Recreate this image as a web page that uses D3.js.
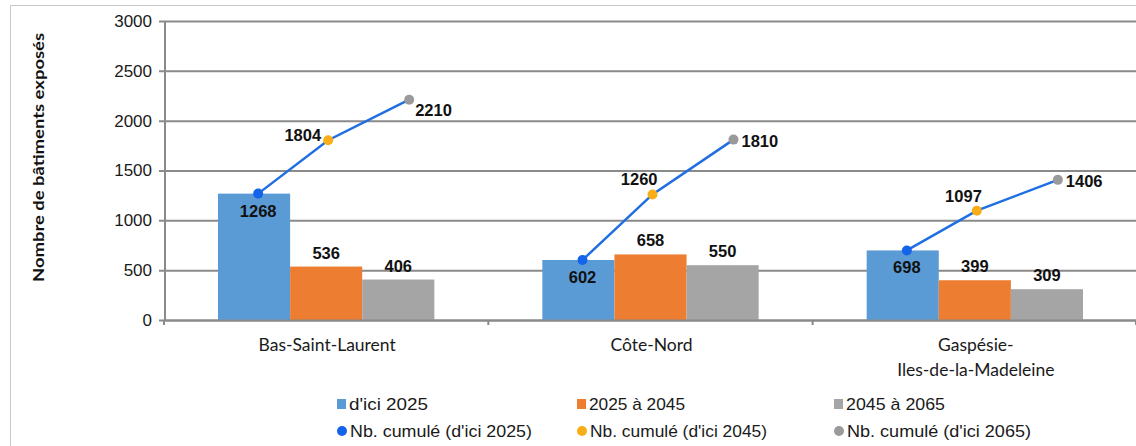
<!DOCTYPE html>
<html lang="fr">
<head>
<meta charset="utf-8">
<script src="https://cdn.jsdelivr.net/npm/d3@7"></script>
<style>
  html, body { margin: 0; padding: 0; background: #fff; }
  svg { display: block; }
</style>
</head>
<body>
<svg id="chart" width="1136" height="446"></svg>
<script>
// Régions et périodes
const regions = ["Bas-Saint-Laurent", "Côte-Nord", "Gaspésie-\nIles-de-la-Madeleine"];
const periods = ["d'ici 2025", "2025 à 2045", "2045 à 2065"];
const cumulLabels = ["Nb. cumulé (d'ici 2025)", "Nb. cumulé (d'ici 2045)", "Nb. cumulé (d'ici 2065)"];
const cumulKeys = ["2025", "2045", "2065"];

// Bâtiments exposés par période (une ligne par région)
const byPeriod = [
  [1268, 536, 406],
  [602, 658, 550],
  [698, 399, 309]
];
// Nombre cumulé de bâtiments exposés
const cumulative = [
  [1268, 1804, 2210],
  [602, 1260, 1810],
  [698, 1097, 1406]
];
// Emplacement de l'étiquette de chaque point cumulé
const cumulLabelPlace = [
  ["below", "left", "rightLow"],
  ["below", "aboveLeft", "right"],
  ["below", "aboveLeft", "right"]
];
const yTicks = [0, 500, 1000, 1500, 2000, 2500, 3000];

const barColors = ["#5b9bd5", "#ed7d31", "#a5a5a5"];
const dotColors = ["#1463ea", "#f9ad16", "#9a9a9a"];
const lineColor = "#1f6fe2";
const gridColor = "#8a8a8a";

const svg = d3.select("#chart");

// Cadre du graphique
svg.append("rect")
  .attr("x", 10.5).attr("y", 5.5)
  .attr("width", 1140).attr("height", 450)
  .attr("fill", "none").attr("stroke", "#c9c9c9").attr("stroke-width", 1);

const plot = { left: 164, right: 1137, top: 21, bottom: 320 };

const y = d3.scaleLinear().domain([0, 3000]).range([plot.bottom, plot.top]);
const x0 = d3.scaleBand().domain(regions).range([plot.left, plot.right]).padding(0);
const groupWidth = x0.step() * 0.667;
const x1 = d3.scaleBand().domain(periods).range([0, groupWidth]).padding(0);
// Position horizontale des points cumulés par rapport au centre de la région
const xc = d3.scalePoint().domain(cumulKeys).range([-68, 83]);
// point intermédiaire légèrement décalé
const xcOffset = k => k === "2045" ? 2 : xc(k);

// Grille horizontale + graduations de l'axe vertical
const yAxis = d3.axisLeft(y).tickValues(yTicks).tickFormat(d3.format("d"))
  .tickSize(-(plot.right - plot.left)).tickSizeOuter(0).tickPadding(12);
const gy = svg.append("g").attr("transform", `translate(${plot.left},0)`).call(yAxis);
gy.select(".domain").remove();
gy.selectAll(".tick line")
  .attr("x1", -5)
  .attr("stroke", gridColor).attr("stroke-width", 2);
gy.selectAll(".tick text")
  .attr("fill", "#1a1a1a")
  .attr("font-family", "'Liberation Sans', Arial, sans-serif")
  .attr("font-size", 17);

// Axe vertical
svg.append("line")
  .attr("x1", plot.left + 1).attr("x2", plot.left + 1)
  .attr("y1", plot.top).attr("y2", plot.bottom)
  .attr("stroke", gridColor).attr("stroke-width", 2);

// Titre de l'axe vertical
svg.append("text")
  .attr("transform", `translate(44,${(33 + 282) / 2}) rotate(-90)`)
  .attr("text-anchor", "middle")
  .attr("font-family", "Lato, 'Open Sans', sans-serif")
  .attr("font-weight", "bold")
  .attr("font-size", 15.5)
  .attr("fill", "#111")
  .attr("textLength", 249).attr("lengthAdjust", "spacingAndGlyphs")
  .text("Nombre de bâtiments exposés");

// Barres
const groups = svg.append("g").selectAll("g")
  .data(regions).join("g")
  .attr("transform", d => `translate(${x0(d) + (x0.step() - groupWidth) / 2},0)`);

groups.each(function (region, ri) {
  const g = d3.select(this);
  periods.forEach((p, pi) => {
    const v = byPeriod[ri][pi];
    g.append("rect")
      .attr("x", x1(p)).attr("y", y(v))
      .attr("width", x1.bandwidth()).attr("height", y(0) - y(v))
      .attr("fill", barColors[pi]);
    if (pi > 0) {
      g.append("text")
        .attr("x", x1(p) + x1.bandwidth() / 2)
        .attr("y", y(v) - 8)
        .attr("text-anchor", "middle")
        .attr("font-family", "'Liberation Sans', Arial, sans-serif")
        .attr("font-weight", "bold")
        .attr("font-size", 16.5)
        .attr("fill", "#111")
        .text(v);
    }
  });
});

// Axe horizontal
const xAxis = d3.axisBottom(x0).tickSize(0).tickFormat("");
const gx = svg.append("g").attr("transform", `translate(0,${plot.bottom})`).call(xAxis);
gx.select(".domain").attr("stroke", gridColor).attr("stroke-width", 2);
const boundaries = regions.map(r => x0(r)).concat([plot.right - 1]);
svg.append("g").selectAll("line").data(boundaries).join("line")
  .attr("x1", d => d).attr("x2", d => d)
  .attr("y1", plot.bottom).attr("y2", plot.bottom + 5)
  .attr("stroke", gridColor).attr("stroke-width", 2);

// Noms des régions
svg.append("g").selectAll("text").data(regions).join("text")
  .attr("text-anchor", "middle")
  .attr("font-family", "Lato, 'Open Sans', sans-serif")
  .attr("font-size", 17.5)
  .attr("fill", "#1a1a1a")
  .each(function (d) {
    const cx = x0(d) + x0.bandwidth() / 2 + 1;
    d.split("\n").forEach((line, i) => {
      d3.select(this).append("tspan")
        .attr("x", cx).attr("y", 351 + i * 25)
        .text(line);
    });
  });

// Courbes des nombres cumulés
const line = d3.line().x(d => d.x).y(d => d.y);
regions.forEach((region, ri) => {
  const cx = x0(region) + x0.bandwidth() / 2;
  const pts = cumulKeys.map((k, ki) => ({
    x: cx + xcOffset(k), y: y(cumulative[ri][ki]),
    v: cumulative[ri][ki], ki, place: cumulLabelPlace[ri][ki]
  }));
  svg.append("path").datum(pts)
    .attr("d", line)
    .attr("fill", "none").attr("stroke", lineColor).attr("stroke-width", 2.5);
  const g = svg.append("g");
  g.selectAll("circle").data(pts).join("circle")
    .attr("cx", d => d.x).attr("cy", d => d.y).attr("r", 5)
    .attr("fill", d => dotColors[d.ki]);
  g.selectAll("text").data(pts).join("text")
    .attr("font-family", "'Liberation Sans', Arial, sans-serif")
    .attr("font-weight", "bold")
    .attr("font-size", 16.5)
    .attr("fill", "#111")
    .attr("dominant-baseline", "central")
    .attr("text-anchor", d => d.place === "left" || d.place === "aboveLeft" ? "end"
      : d.place.startsWith("right") ? "start" : "middle")
    .attr("x", d => d.place === "left" ? d.x - 7
      : d.place === "aboveLeft" ? d.x + 5
      : d.place === "right" ? d.x + 8
      : d.place === "rightLow" ? d.x + 6
      : d.x)
    .attr("y", d => d.place === "below" ? d.y + 17
      : d.place === "left" ? d.y - 5
      : d.place === "aboveLeft" ? d.y - 15
      : d.place === "rightLow" ? d.y + 10
      : d.y + 1)
    .text(d => d.v);
});

// Légende
const legend = svg.append("g");
const legendX = [337, 577, 834];
const legendFont = "'Liberation Sans Narrow', 'Liberation Sans', Arial, sans-serif";
periods.forEach((p, i) => {
  legend.append("rect")
    .attr("x", legendX[i]).attr("y", 399).attr("width", 9).attr("height", 10)
    .attr("fill", barColors[i]);
  legend.append("text")
    .attr("x", legendX[i] + 12).attr("y", 404)
    .attr("dominant-baseline", "central")
    .attr("font-family", legendFont)
    .attr("font-size", 17)
    .attr("fill", "#1a1a1a")
    .attr("textLength", [79, 96, 99][i]).attr("lengthAdjust", "spacingAndGlyphs")
    .text(p);
});
cumulLabels.forEach((p, i) => {
  legend.append("circle")
    .attr("cx", legendX[i] + 5).attr("cy", 431).attr("r", 5)
    .attr("fill", dotColors[i]);
  legend.append("text")
    .attr("x", legendX[i] + 13).attr("y", 431)
    .attr("dominant-baseline", "central")
    .attr("font-family", legendFont)
    .attr("font-size", 17)
    .attr("fill", "#1a1a1a")
    .attr("textLength", [182, 177, 184][i]).attr("lengthAdjust", "spacingAndGlyphs")
    .text(p);
});
</script>
</body>
</html>
